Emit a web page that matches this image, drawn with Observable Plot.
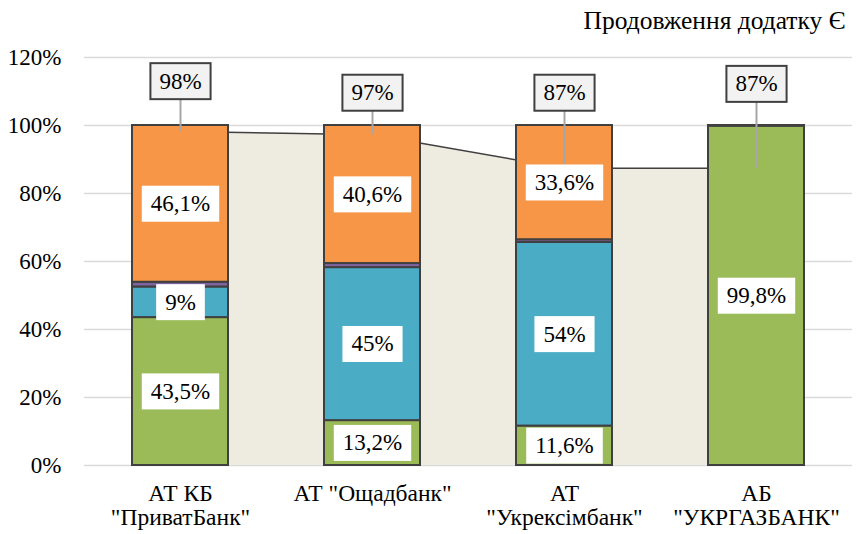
<!DOCTYPE html>
<html><head><meta charset="utf-8">
<script src="https://cdn.jsdelivr.net/npm/d3@7"></script>
<script src="https://cdn.jsdelivr.net/npm/@observablehq/plot@0.6"></script>
<style>
body{margin:0;background:#fff}
</style>
</head><body><div id="chart"></div>
<script>
const title = "Продовження додатку Є";
const banks = ['АТ КБ\n"ПриватБанк"', 'АТ "Ощадбанк"', 'АТ\n"Укрексімбанк"', 'АБ\n"УКРГАЗБАНК"'];
const seriesNames = ["s1", "s2", "s3", "s4"];
const seriesColors = ["#9BBB59", "#4BACC6", "#8064A2", "#F79646"];
const seriesLabeled = [true, true, false, true];
const green = [43.5, 13.2, 11.6, 99.8];
const blue = [9, 45, 54, 0];
const purple = [1.4, 1.2, 0.8, 0.2];
const orange = [46.1, 40.6, 33.6, 0];
const totals = [98.2, 97.3, 87.4, 87.4];
const calloutY = [113, 109.6, 109.6, 112.2];
const yTicks = [0, 20, 40, 60, 80, 100, 120];

const FONT = "Liberation Serif";
const seriesValues = [green, blue, purple, orange];
const fmt = v => String(v).replace(".", ",") + "%";
const rows = [];
banks.forEach((bank, i) => {
  seriesValues.forEach((vals, s) => {
    if (vals[i] > 0) rows.push({bank, series: seriesNames[s], value: vals[i], label: seriesLabeled[s] ? fmt(vals[i]) : ""});
  });
});
const totalRows = banks.map((bank, i) => ({bank, total: totals[i], callout: calloutY[i], label: Math.round(totals[i]) + "%"}));

const plot = Plot.plot({
  width: 858, height: 534,
  marginTop: 57, marginBottom: 69, marginLeft: 84, marginRight: 6,
  style: "font-family: Liberation Serif; font-size: 23px; color: #000; background: #fff;",
  x: {domain: banks, paddingInner: 0.5, paddingOuter: 0.25, label: null},
  y: {domain: [0, 120], label: null},
  color: {domain: seriesNames, range: seriesColors},
  marks: [
    Plot.ruleY(yTicks, {stroke: "#D9D9D9", strokeWidth: 1.5}),
    Plot.areaY(totalRows, {x: "bank", y: "total", fill: "#EEECE1"}),
    Plot.lineY(totalRows, {x: "bank", y: "total", stroke: "#404040", strokeWidth: 1.5}),
    Plot.barY(rows, {x: "bank", y: "value", fill: "series", stroke: "#404040", strokeWidth: 2}),
    Plot.ruleX(totalRows, {x: "bank", y1: "total", y2: "callout", stroke: "#A6A6A6", strokeWidth: 2}),
    Plot.text(rows, Plot.stackY({x: "bank", y: "value", text: "label", fill: "#000", fontFamily: FONT, fontSize: 23})),
    Plot.text(totalRows, {x: "bank", y: "callout", text: "label", fill: "#000", fontFamily: FONT, fontSize: 23}),
    Plot.axisY({ticks: yTicks, tickSize: 0, tickPadding: 23, tickFormat: d => d + "%", label: null, fontFamily: FONT, fontSize: 23}),
    Plot.axisX({tickSize: 0, tickPadding: 19, label: null, fontFamily: FONT, fontSize: 23.5}),
    Plot.text([title], {frameAnchor: "top-right", textAnchor: "end", lineAnchor: "top", dy: -47, dx: -7, fill: "#000", fontFamily: FONT, fontSize: 25.5})
  ]
});
document.getElementById("chart").append(plot);

function boxify(g, fill, stroke, sw) {
  if (!g) return;
  g.querySelectorAll("text").forEach(t => {
    if (!t.textContent) return;
    const b = t.getBBox();
    const r = document.createElementNS("http://www.w3.org/2000/svg", "rect");
    r.setAttribute("x", b.x - 9);
    r.setAttribute("y", b.y - 5.5);
    r.setAttribute("width", b.width + 18);
    r.setAttribute("height", b.height + 11);
    r.setAttribute("fill", fill);
    r.setAttribute("stroke", stroke);
    r.setAttribute("stroke-width", sw);
    const tr = t.getAttribute("transform");
    if (tr) r.setAttribute("transform", tr);
    t.parentNode.insertBefore(r, t);
  });
}
const textGroups = plot.querySelectorAll('g[aria-label="text"]');
boxify(textGroups[0], "#FFFFFF", "none", 0);
boxify(textGroups[1], "#F2F2F2", "#404040", 2);
</script>
</body></html>
